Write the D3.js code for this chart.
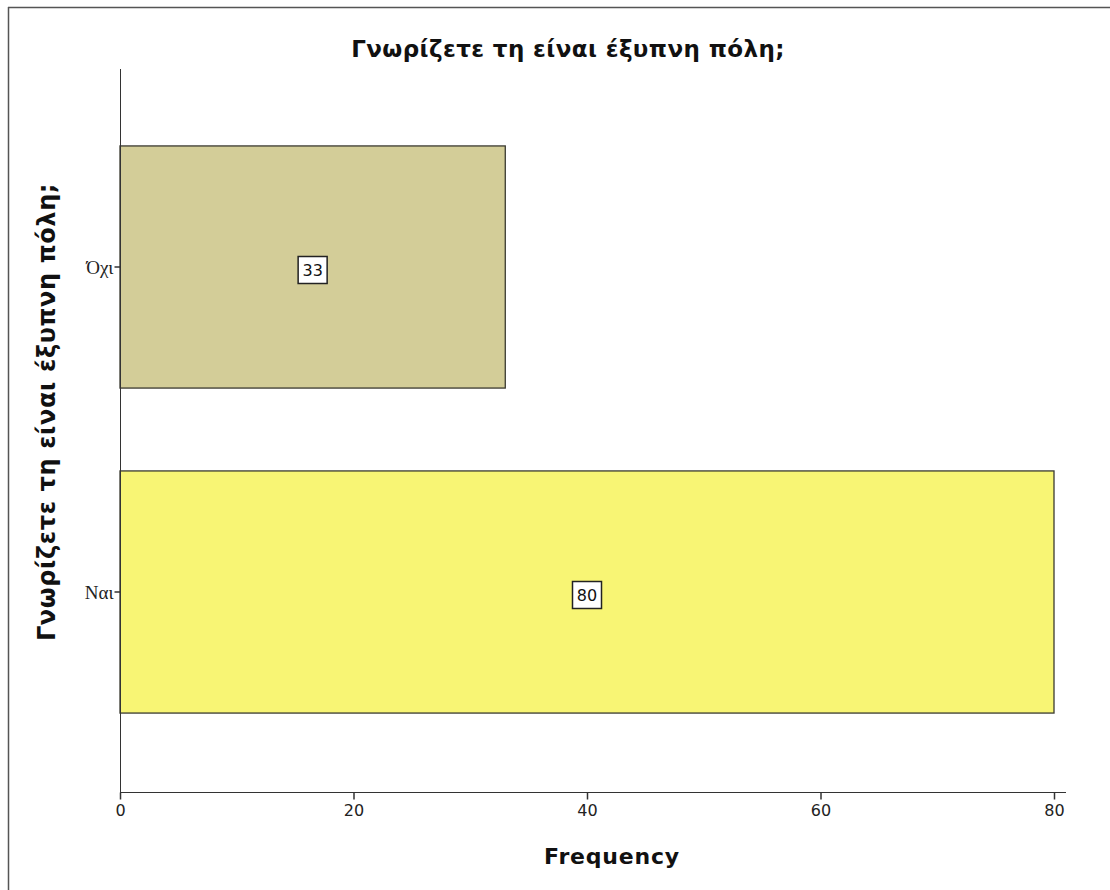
<!DOCTYPE html>
<html>
<head>
<meta charset="utf-8">
<script src="https://cdn.jsdelivr.net/npm/d3@7"></script>
<style>
  body { margin: 0; background: #fff; }
  svg { display: block; }
</style>
</head>
<body>
<svg id="chart" width="1110" height="890"></svg>
<script>
const categories = ["Όχι", "Ναι"];
const values = [33, 80];
const colors = ["#d3cd98", "#f8f574"];
const xTicks = [0, 20, 40, 60, 80];
const title = "Γνωρίζετε τη είναι έξυπνη πόλη;";
const yTitle = "Γνωρίζετε τη είναι έξυπνη πόλη;";
const xTitle = "Frequency";

const svg = d3.select("#chart");

// outer frame (top & left)
svg.append("line").attr("x1", 8).attr("x2", 1110).attr("y1", 7.5).attr("y2", 7.5)
  .attr("stroke", "#555").attr("stroke-width", 1.5);
svg.append("line").attr("x1", 8.5).attr("x2", 8.5).attr("y1", 7).attr("y2", 890)
  .attr("stroke", "#555").attr("stroke-width", 1.5);

const x = d3.scaleLinear().domain([0, 80]).range([120, 1054]);
const y = d3.scaleBand().domain(categories).range([104.5, 754.5]).paddingInner(0.255).paddingOuter(0.1275);

// bars
svg.selectAll("rect.bar").data(categories).enter().append("rect")
  .attr("class", "bar")
  .attr("x", x(0))
  .attr("y", d => y(d))
  .attr("width", (d, i) => x(values[i]) - x(0))
  .attr("height", y.bandwidth())
  .attr("fill", (d, i) => colors[i])
  .attr("stroke", "#3a3a30")
  .attr("stroke-width", 1.3);

// axes lines
svg.append("line").attr("x1", 120.5).attr("x2", 120.5).attr("y1", 69).attr("y2", 792.5)
  .attr("stroke", "#333").attr("stroke-width", 1);
svg.append("line").attr("x1", 120).attr("x2", 1066).attr("y1", 792.5).attr("y2", 792.5)
  .attr("stroke", "#333").attr("stroke-width", 1);

// x axis ticks
const xAxis = d3.axisBottom(x).tickValues(xTicks).tickSize(6).tickSizeOuter(0);
const gx = svg.append("g").attr("transform", "translate(0,792.5)").call(xAxis);
gx.attr("font-size", null).attr("font-family", null);
gx.select(".domain").remove();
gx.selectAll(".tick line").attr("stroke", "#333").attr("stroke-width", 1.5).attr("y1", 0).attr("y2", 7);
gx.selectAll(".tick text").style("font-family", "DejaVu Sans, sans-serif").style("font-size", "16px")
  .attr("fill", "#222").attr("y", 10).attr("dy", "0.82em");

// y axis ticks
const yAxis = d3.axisLeft(y).tickSize(6).tickSizeOuter(0);
const gy = svg.append("g").attr("transform", "translate(120.5,0)").call(yAxis);
gy.attr("font-size", null).attr("font-family", null);
gy.select(".domain").remove();
gy.selectAll(".tick line").attr("stroke", "#333").attr("stroke-width", 1.5);
gy.selectAll(".tick text").style("font-family", "Liberation Serif, serif").style("font-size", "19px")
  .attr("fill", "#222").attr("x", -7).attr("dy", "0.38em");

// data labels
const labels = svg.selectAll("g.lbl").data(categories).enter().append("g").attr("class", "lbl")
  .attr("transform", (d, i) => `translate(${(x(0) + x(values[i])) / 2},${y(d) + y.bandwidth() / 2 + 3})`);
labels.append("rect").attr("x", -14.5).attr("y", -13.5).attr("width", 29).attr("height", 27)
  .attr("fill", "#fff").attr("stroke", "#222").attr("stroke-width", 1.5);
labels.append("text").text((d, i) => values[i])
  .attr("text-anchor", "middle").attr("dy", "0.36em")
  .style("font-family", "DejaVu Sans, sans-serif").style("font-size", "16px").attr("fill", "#111");

// titles
svg.append("text").attr("x", 568).attr("y", 57).attr("text-anchor", "middle")
  .style("font-family", "DejaVu Sans, sans-serif").style("font-weight", "bold").style("font-size", "23px")
  .style("letter-spacing", "0.4px").attr("fill", "#111").text(title);
svg.append("text").attr("transform", "translate(55,412) rotate(-90)").attr("text-anchor", "middle")
  .style("font-family", "DejaVu Sans, sans-serif").style("font-weight", "bold").style("font-size", "24px")
  .style("letter-spacing", "0.6px").attr("fill", "#111").text(yTitle);
svg.append("text").attr("x", 612).attr("y", 864).attr("text-anchor", "middle")
  .style("font-family", "DejaVu Sans, sans-serif").style("font-weight", "bold").style("font-size", "22px")
  .style("letter-spacing", "0.8px").attr("fill", "#111").text(xTitle);
</script>
</body>
</html>
